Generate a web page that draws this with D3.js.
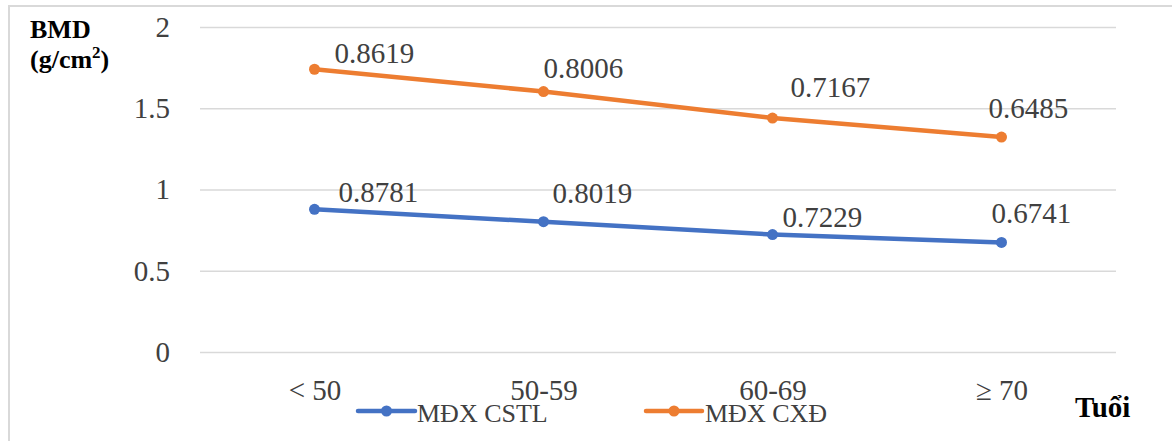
<!DOCTYPE html>
<html>
<head>
<meta charset="utf-8">
<script src="https://cdn.jsdelivr.net/npm/d3@7"></script>
<style>
  html, body { margin: 0; padding: 0; background: #fff; }
  svg { display: block; }
  svg text { font-family: "Liberation Serif", "Times New Roman", "DejaVu Serif", serif; }
</style>
</head>
<body>
<svg id="chart" width="1172" height="441"></svg>
<script>
// ---- data ----
const categories = ["< 50", "50-59", "60-69", "≥ 70"];
const seriesNames = ["MĐX CSTL", "MĐX CXĐ"];
const cstlValues = [0.8781, 0.8019, 0.7229, 0.6741];
const cxdValues = [0.8619, 0.8006, 0.7167, 0.6485];
const yTicks = [0, 0.5, 1, 1.5, 2];
const yTickLabels = ["0", "0.5", "1", "1.5", "2"];

// label placement (offset from point: dx to label start, dy to baseline)
const cstlLabelOffsets = [[24, -7], [9, -19], [10, -8], [-10, -19]];
const cxdLabelOffsets = [[20, -6], [0, -14], [18, -21], [-13, -19]];

const colors = ["#4472C4", "#ED7D31"];
const textColor = "#404040";
const serif = '"Liberation Serif", "Times New Roman", "DejaVu Serif", serif';

const svg = d3.select("#chart");

// frame border
svg.append("path")
  .attr("d", "M9,441 V6 H1172")
  .attr("fill", "none").attr("stroke", "#d9d9d9").attr("stroke-width", 2);

const x = d3.scalePoint().domain(categories).range([200, 1116]).padding(0.5);
const y = d3.scaleLinear().domain([0, 2]).range([352, 27]);

// y axis with gridlines
const yAxis = d3.axisLeft(y).tickValues(yTicks)
  .tickFormat((d, i) => yTickLabels[i])
  .tickSize(-(1116 - 200)).tickPadding(30);
const gy = svg.append("g").attr("transform", "translate(200,0)").call(yAxis);
gy.attr("font-family", null).attr("font-size", null);
gy.select(".domain").remove();
gy.selectAll(".tick line").attr("stroke", "#d9d9d9").attr("stroke-width", 1.5);
gy.selectAll(".tick text").attr("fill", textColor)
  .style("font-family", serif).style("font-size", "29px");

// x axis
const xAxis = d3.axisBottom(x).tickSize(0).tickPadding(27);
const gx = svg.append("g").attr("transform", "translate(0,352)").call(xAxis);
gx.attr("font-family", null).attr("font-size", null);
gx.select(".domain").remove();
gx.selectAll(".tick text").attr("fill", textColor)
  .style("font-family", serif).style("font-size", "29px");

// stacked series
const stacked0 = cstlValues.slice();
const stacked1 = cxdValues.map((v, i) => v + cstlValues[i]);
const series = [
  { name: seriesNames[0], vals: cstlValues, pos: stacked0, off: cstlLabelOffsets, color: colors[0] },
  { name: seriesNames[1], vals: cxdValues, pos: stacked1, off: cxdLabelOffsets, color: colors[1] }
];

const line = d3.line().x((d, i) => x(categories[i])).y(d => y(d));

series.forEach(s => {
  svg.append("path").datum(s.pos)
    .attr("d", line).attr("fill", "none")
    .attr("stroke", s.color).attr("stroke-width", 4.5)
    .attr("stroke-linejoin", "round").attr("stroke-linecap", "round");
  svg.append("g").selectAll("circle").data(s.pos).join("circle")
    .attr("cx", (d, i) => x(categories[i])).attr("cy", d => y(d))
    .attr("r", 5.5).attr("fill", s.color);
  svg.append("g").selectAll("text").data(s.vals).join("text")
    .attr("x", (d, i) => x(categories[i]) + s.off[i][0])
    .attr("y", (d, i) => y(s.pos[i]) + s.off[i][1])
    .attr("fill", textColor)
    .style("font-family", serif).style("font-size", "29px")
    .text(d => d.toFixed(4));
});

// legend
const legendItems = [
  { x0: 358, x1: 415, tx: 417 },
  { x0: 646, x1: 702, tx: 705 }
];
legendItems.forEach((L, i) => {
  const g = svg.append("g");
  g.append("line").attr("x1", L.x0).attr("x2", L.x1).attr("y1", 411).attr("y2", 411)
    .attr("stroke", colors[i]).attr("stroke-width", 4.5).attr("stroke-linecap", "round");
  g.append("circle").attr("cx", (L.x0 + L.x1) / 2).attr("cy", 411).attr("r", 5.5).attr("fill", colors[i]);
  g.append("text").attr("x", L.tx).attr("y", 422).attr("fill", textColor)
    .style("font-family", serif).style("font-size", "26px")
    .text(seriesNames[i]);
});

// axis titles
svg.append("text").attr("x", 30).attr("y", 38)
  .style("font-family", serif).style("font-size", "26px").style("font-weight", "bold")
  .attr("fill", "#000").text("BMD");
const t2 = svg.append("text").attr("x", 30).attr("y", 68)
  .style("font-family", serif).style("font-size", "26px").style("font-weight", "bold")
  .attr("fill", "#000");
t2.append("tspan").text("(g/cm");
t2.append("tspan").attr("dy", -10).style("font-size", "17px").text("2");
t2.append("tspan").attr("dy", 10).text(")");

svg.append("text").attr("x", 1075).attr("y", 417)
  .style("font-family", serif).style("font-size", "29px").style("font-weight", "bold")
  .attr("fill", "#000").text("Tuổi");
</script>
</body>
</html>
